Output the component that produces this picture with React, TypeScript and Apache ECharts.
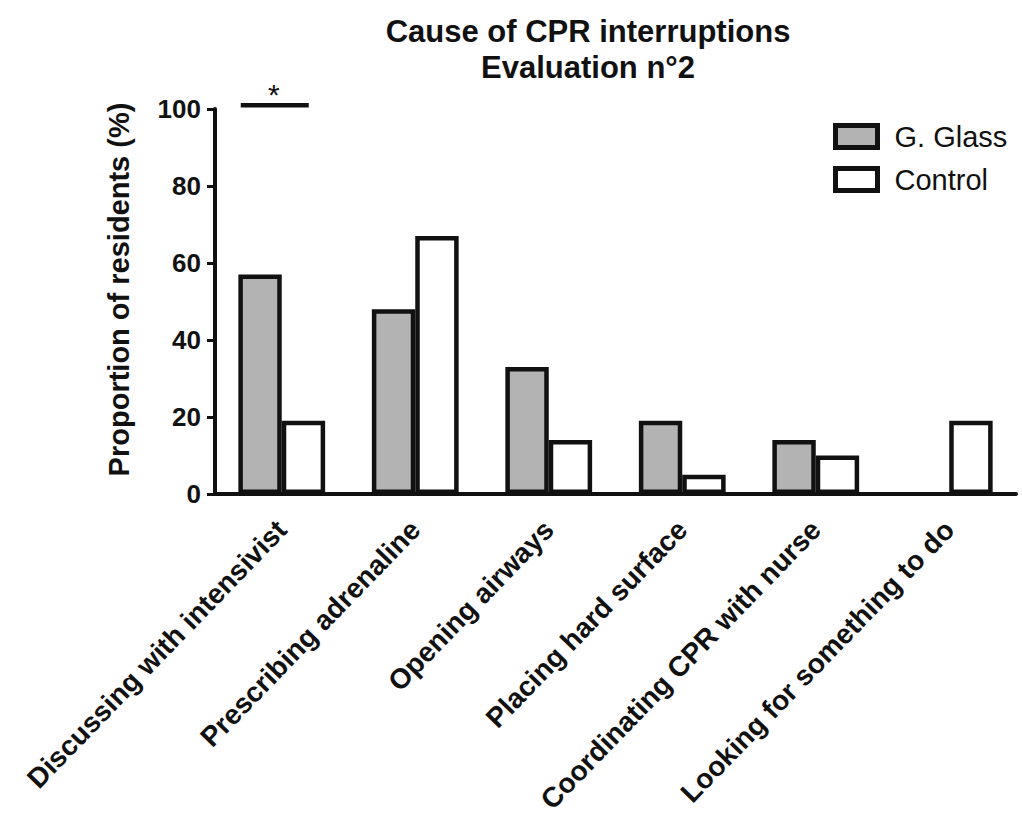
import React, { useEffect, useRef } from "react";
import * as echarts from "echarts";

const categories = [
  "Discussing with intensivist",
  "Prescribing adrenaline",
  "Opening airways",
  "Placing hard surface",
  "Coordinating CPR with nurse",
  "Looking for something to do",
];
const gGlass = [57, 48, 33, 19, 14, 0];
const control = [19, 67, 14, 5, 10, 19];
const yTicks = { min: 0, max: 100, interval: 20 };

const FONT = "Arial, 'Liberation Sans', sans-serif";

const barData = (values: number[]) =>
  values.map((v) => (v === 0 ? { value: v, itemStyle: { borderWidth: 0 } } : v));

export default function App() {
  const ref = useRef<HTMLDivElement>(null);
  useEffect(() => {
    if (!ref.current) return;
    const chart = echarts.init(ref.current, null, { renderer: "svg" });
    const option: any = {
      animation: false,
      backgroundColor: "#ffffff",
      textStyle: { fontFamily: FONT },
      title: {
        text: "Cause of CPR interruptions\nEvaluation n°2",
        left: 583,
        top: 8,
        textAlign: "center",
        textStyle: { fontFamily: FONT, fontSize: 31, fontWeight: "bold", color: "#111", lineHeight: 36 },
      },
      legend: {
        orient: "vertical",
        left: 828,
        top: 117,
        icon: "rect",
        itemWidth: 42,
        itemHeight: 22,
        itemGap: 14,
        textStyle: { fontFamily: FONT, fontSize: 29, color: "#111", padding: [0, 0, 0, 12] },
        data: [
          { name: "G. Glass", itemStyle: { color: "#b3b3b3", borderColor: "#111", borderWidth: 5 } },
          { name: "Control", itemStyle: { color: "#ffffff", borderColor: "#111", borderWidth: 5 } },
        ],
      },
      grid: { left: 215, right: 6, top: 109, bottom: 329, containLabel: false, outerBoundsMode: "none" },
      xAxis: {
        type: "category",
        data: categories,
        axisLine: { lineStyle: { color: "#111", width: 4 } },
        axisTick: { alignWithLabel: true, length: 10, lineStyle: { color: "#111", width: 3 } },
        axisLabel: {
          rotate: 46,
          margin: 31,
          interval: 0,
          fontFamily: FONT,
          fontSize: 28,
          fontWeight: "bold",
          color: "#111",
        },
      },
      yAxis: {
        type: "value",
        min: yTicks.min,
        max: yTicks.max,
        interval: yTicks.interval,
        name: "Proportion of residents (%)",
        nameLocation: "middle",
        nameGap: 82,
        nameTextStyle: { fontFamily: FONT, fontSize: 29, fontWeight: "bold", color: "#111", padding: [0, 0, 0, 24] },
        splitLine: { show: false },
        axisLine: { show: true, lineStyle: { color: "#111", width: 4 } },
        axisTick: { show: true, length: 8, lineStyle: { color: "#111", width: 3 } },
        axisLabel: { fontFamily: FONT, fontSize: 26, fontWeight: "bold", color: "#111", margin: 14 },
      },
      series: [
        {
          name: "G. Glass",
          type: "bar",
          data: barData(gGlass),
          barGap: "0%",
          barCategoryGap: "35%",
          itemStyle: { color: "#b3b3b3", borderColor: "#111", borderWidth: 4.5 },
        },
        {
          name: "Control",
          type: "bar",
          data: barData(control),
          barGap: "0%",
          barCategoryGap: "35%",
          itemStyle: { color: "#ffffff", borderColor: "#111", borderWidth: 4.5 },
        },
      ],
    };
    chart.setOption(option);
    const p = chart.convertToPixel({ gridIndex: 0 }, [0, 101]) as number[];
    chart.setOption({
      graphic: [
        {
          type: "line",
          shape: { x1: p[0] - 41, y1: p[1], x2: p[0] + 27, y2: p[1] },
          style: { stroke: "#111", lineWidth: 4.5 },
        },
        {
          type: "text",
          x: p[0] - 8,
          y: p[1] + 4,
          style: { text: "*", fontFamily: FONT, fontSize: 30, fill: "#111", textAlign: "center", textVerticalAlign: "bottom" },
        },
      ],
    });
    return () => chart.dispose();
  }, []);
  return <div ref={ref} style={{ width: 1022, height: 823, position: "absolute", left: 0, top: 0 }} />;
}
